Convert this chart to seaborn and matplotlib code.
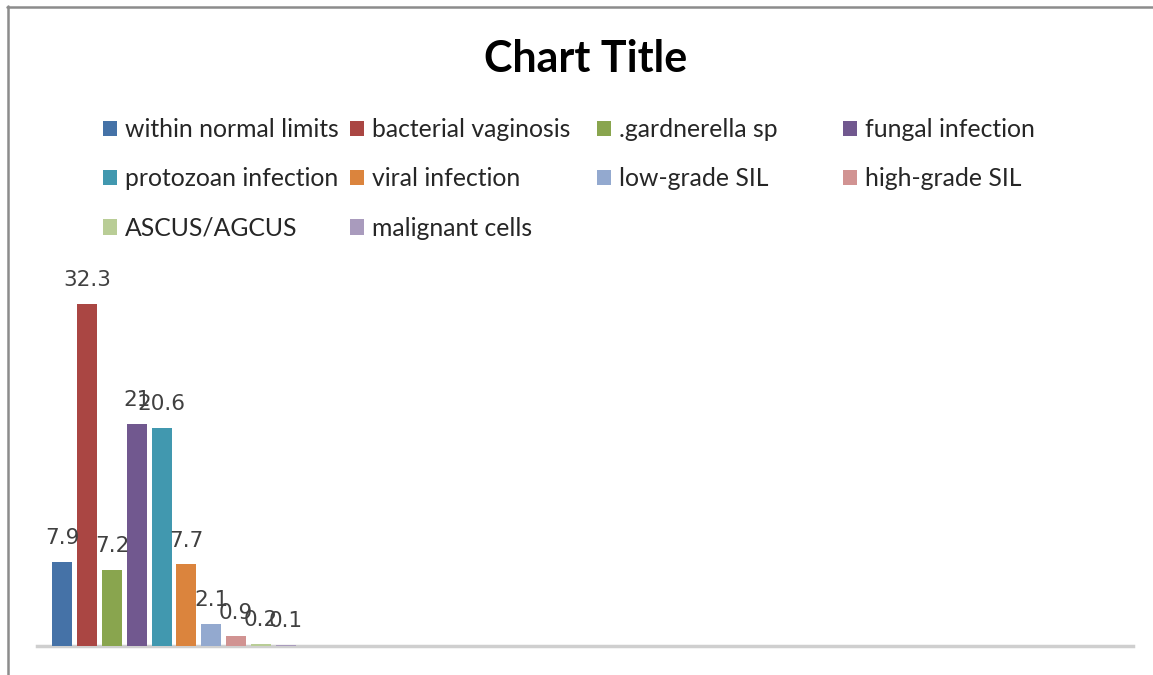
import matplotlib
matplotlib.use("Agg")
import matplotlib.pyplot as plt
from matplotlib.lines import Line2D
import seaborn as sns
import pandas as pd

# ---- data ----
series = ["within normal limits", "bacterial vaginosis", ".gardnerella sp", "fungal infection",
          "protozoan infection", "viral infection", "low-grade SIL", "high-grade SIL",
          "ASCUS/AGCUS", "malignant cells"]
values = [7.9, 32.3, 7.2, 21, 20.6, 7.7, 2.1, 0.9, 0.2, 0.1]
colors = ["#4572A7", "#AA4643", "#89A54E", "#71588F", "#4198AF",
          "#DB843D", "#93A9CF", "#D19392", "#B9CD96", "#A99BBD"]
category = "1"
title = "Chart Title"

df = pd.DataFrame({"cat": [category] * len(series), "series": series, "value": values})

sns.set_theme(style="white")
plt.rcParams["font.family"] = ["Lato", "DejaVu Sans"]

W, H = 1153, 675
fig = plt.figure(figsize=(W / 100, H / 100), dpi=100)

# axes placement (pixels)
x0, x1 = 37, 1133
ybase = 646
ymax = 35
ppu = 10.59
ytop = ybase - ymax * ppu
ax = fig.add_axes([x0 / W, (H - ybase) / H, (x1 - x0) / W, (ybase - ytop) / H])

sns.barplot(data=df, x="cat", y="value", hue="series", hue_order=series,
            palette=colors, saturation=1, width=0.905, gap=0.19,
            linewidth=0, ax=ax, legend=True)

ax.set_ylim(0, ymax)
ax.set_xlim(-0.5, 3.5)
ax.set_xlabel("")
ax.set_ylabel("")
ax.set_xticks([])
ax.set_yticks([])
for s in ["left", "right", "top"]:
    ax.spines[s].set_visible(False)
ax.spines["bottom"].set_color("#cfcfcf")
ax.spines["bottom"].set_linewidth(2.5)
ax.spines["bottom"].set_zorder(0.5)
for p in ax.patches:
    p.set_zorder(1)

for cont, v in zip(ax.containers, values):
    ax.bar_label(cont, labels=[f"{v:g}"], padding=10, fontsize=15.5,
                 color="#404040", family=["DejaVu Sans"])

handles, labels = ax.get_legend_handles_labels()
ax.get_legend().remove()

# legend: 4 fixed-width columns, row-major order
col_x = [103, 350, 597, 843]
legend_top = 118
for c in range(4):
    idx = list(range(c, len(series), 4))
    fig.legend([handles[i] for i in idx], [labels[i] for i in idx],
               loc="upper left",
               bbox_to_anchor=(col_x[c] / W, (H - legend_top) / H),
               frameon=False, borderpad=0, borderaxespad=0,
               fontsize=17.8, handlelength=0.58, handleheight=0.58,
               handletextpad=0.29, labelspacing=1.07,
               labelcolor="#262626")

fig.text(586 / W, (H - 59) / H, title, ha="center", va="center",
         fontsize=31, fontweight="bold", color="#000000", family=["Lato"])

# chart frame
fig.add_artist(Line2D([7.5 / W, 7.5 / W], [0, (H - 6) / H], color="#8c8c8c", lw=1.8,
                      transform=fig.transFigure))
fig.add_artist(Line2D([7 / W, 1.0], [(H - 7) / H, (H - 7) / H], color="#8c8c8c", lw=1.8,
                      transform=fig.transFigure))

fig.savefig("out.png", dpi=100)
